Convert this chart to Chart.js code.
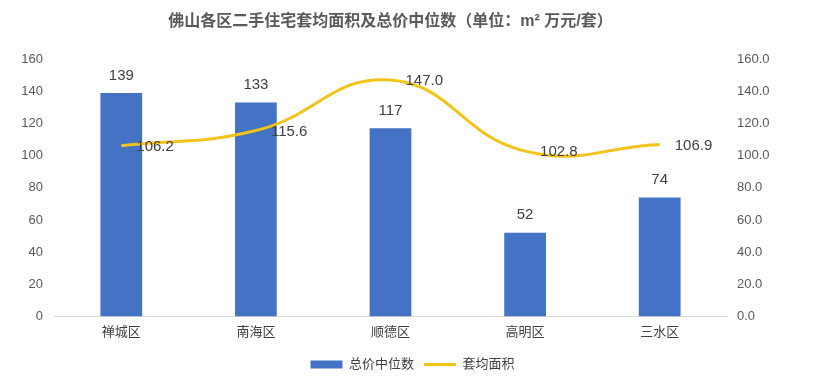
<!DOCTYPE html>
<html><head><meta charset="utf-8">
<script src="https://cdn.jsdelivr.net/npm/chart.js@4/dist/chart.umd.min.js"></script>
<style>html,body{margin:0;padding:0;background:#fff}#wrap{width:825px;height:381px}</style>
</head><body><div id="wrap"><canvas id="c" width="825" height="381"></canvas></div>
<script>
const categories = ['禅城区','南海区','顺德区','高明区','三水区'];
const totalPriceMedian = [139,133,117,52,74];
const avgArea = [106.2,115.6,147.0,102.8,106.9];
const leftTicks = [0,20,40,60,80,100,120,140,160];
const FONT = "'Liberation Sans','Noto Sans CJK SC',sans-serif";

const labelPlugin = {
  id:'labels',
  afterDatasetsDraw(chart){
    const ctx = chart.ctx;
    ctx.save();
    ctx.font = "15px " + FONT;
    ctx.fillStyle = '#404040';
    const m0 = chart.getDatasetMeta(1);
    m0.data.forEach((el,i)=>{
      ctx.textAlign='center'; ctx.textBaseline='bottom';
      ctx.fillText(String(totalPriceMedian[i]), el.x, el.y-10);
    });
    const m1 = chart.getDatasetMeta(0);
    m1.data.forEach((el,i)=>{
      ctx.textAlign='left'; ctx.textBaseline='middle';
      ctx.fillText(avgArea[i].toFixed(1), el.x+15, el.y+1);
    });
    ctx.restore();
  }
};

new Chart(document.getElementById('c'),{
  data:{
    labels:categories,
    datasets:[
      {type:'line',label:'套均面积',data:avgArea,yAxisID:'y1',borderColor:'#F2C318',backgroundColor:'#F2C318',borderWidth:3,tension:0.45,pointRadius:0,order:0},
      {type:'bar',label:'总价中位数',data:totalPriceMedian,yAxisID:'y',backgroundColor:'#4472C4',categoryPercentage:1,barPercentage:0.31,order:1}
    ]
  },
  options:{
    responsive:false,animation:false,
    layout:{padding:{top:6,bottom:0,left:0,right:0}},
    plugins:{
      title:{display:true,fullSize:false,text:'佛山各区二手住宅套均面积及总价中位数（单位：m² 万元/套）',color:'#595959',font:{family:FONT,size:16,weight:'bold'},padding:{top:6,bottom:28}},
      legend:{position:'bottom',reverse:true,labels:{usePointStyle:true,pointStyleWidth:32,boxHeight:8,color:'#404040',font:{family:FONT,size:13},padding:10,
        generateLabels(chart){
          const items = Chart.defaults.plugins.legend.labels.generateLabels(chart);
          items.forEach(it=>{
            if(it.datasetIndex===0){it.pointStyle='line';it.lineWidth=3;it.strokeStyle='#F2C318';}
            else {it.pointStyle='rect';it.lineWidth=0;it.fillStyle='#4472C4';it.strokeStyle='#4472C4';}
          });
          return items;
        }}},
      tooltip:{enabled:false}
    },
    scales:{
      x:{grid:{display:false,drawTicks:false},border:{display:true,color:'#D9D9D9'},ticks:{color:'#404040',font:{family:FONT,size:13},padding:8}},
      y:{position:'left',min:0,max:160,afterBuildTicks(s){s.ticks=leftTicks.map(v=>({value:v}));},
        grid:{display:false},border:{display:false},ticks:{color:'#595959',font:{family:FONT,size:13},padding:3},
        afterFit(s){s.width=54;}},
      y1:{position:'right',min:0,max:160,afterBuildTicks(s){s.ticks=leftTicks.map(v=>({value:v}));},
        grid:{display:false},border:{display:false},ticks:{color:'#595959',font:{family:FONT,size:13},padding:2,callback:v=>Number(v).toFixed(1)},
        afterFit(s){s.width=98;}}
    }
  },
  plugins:[labelPlugin]
});
</script></body></html>
